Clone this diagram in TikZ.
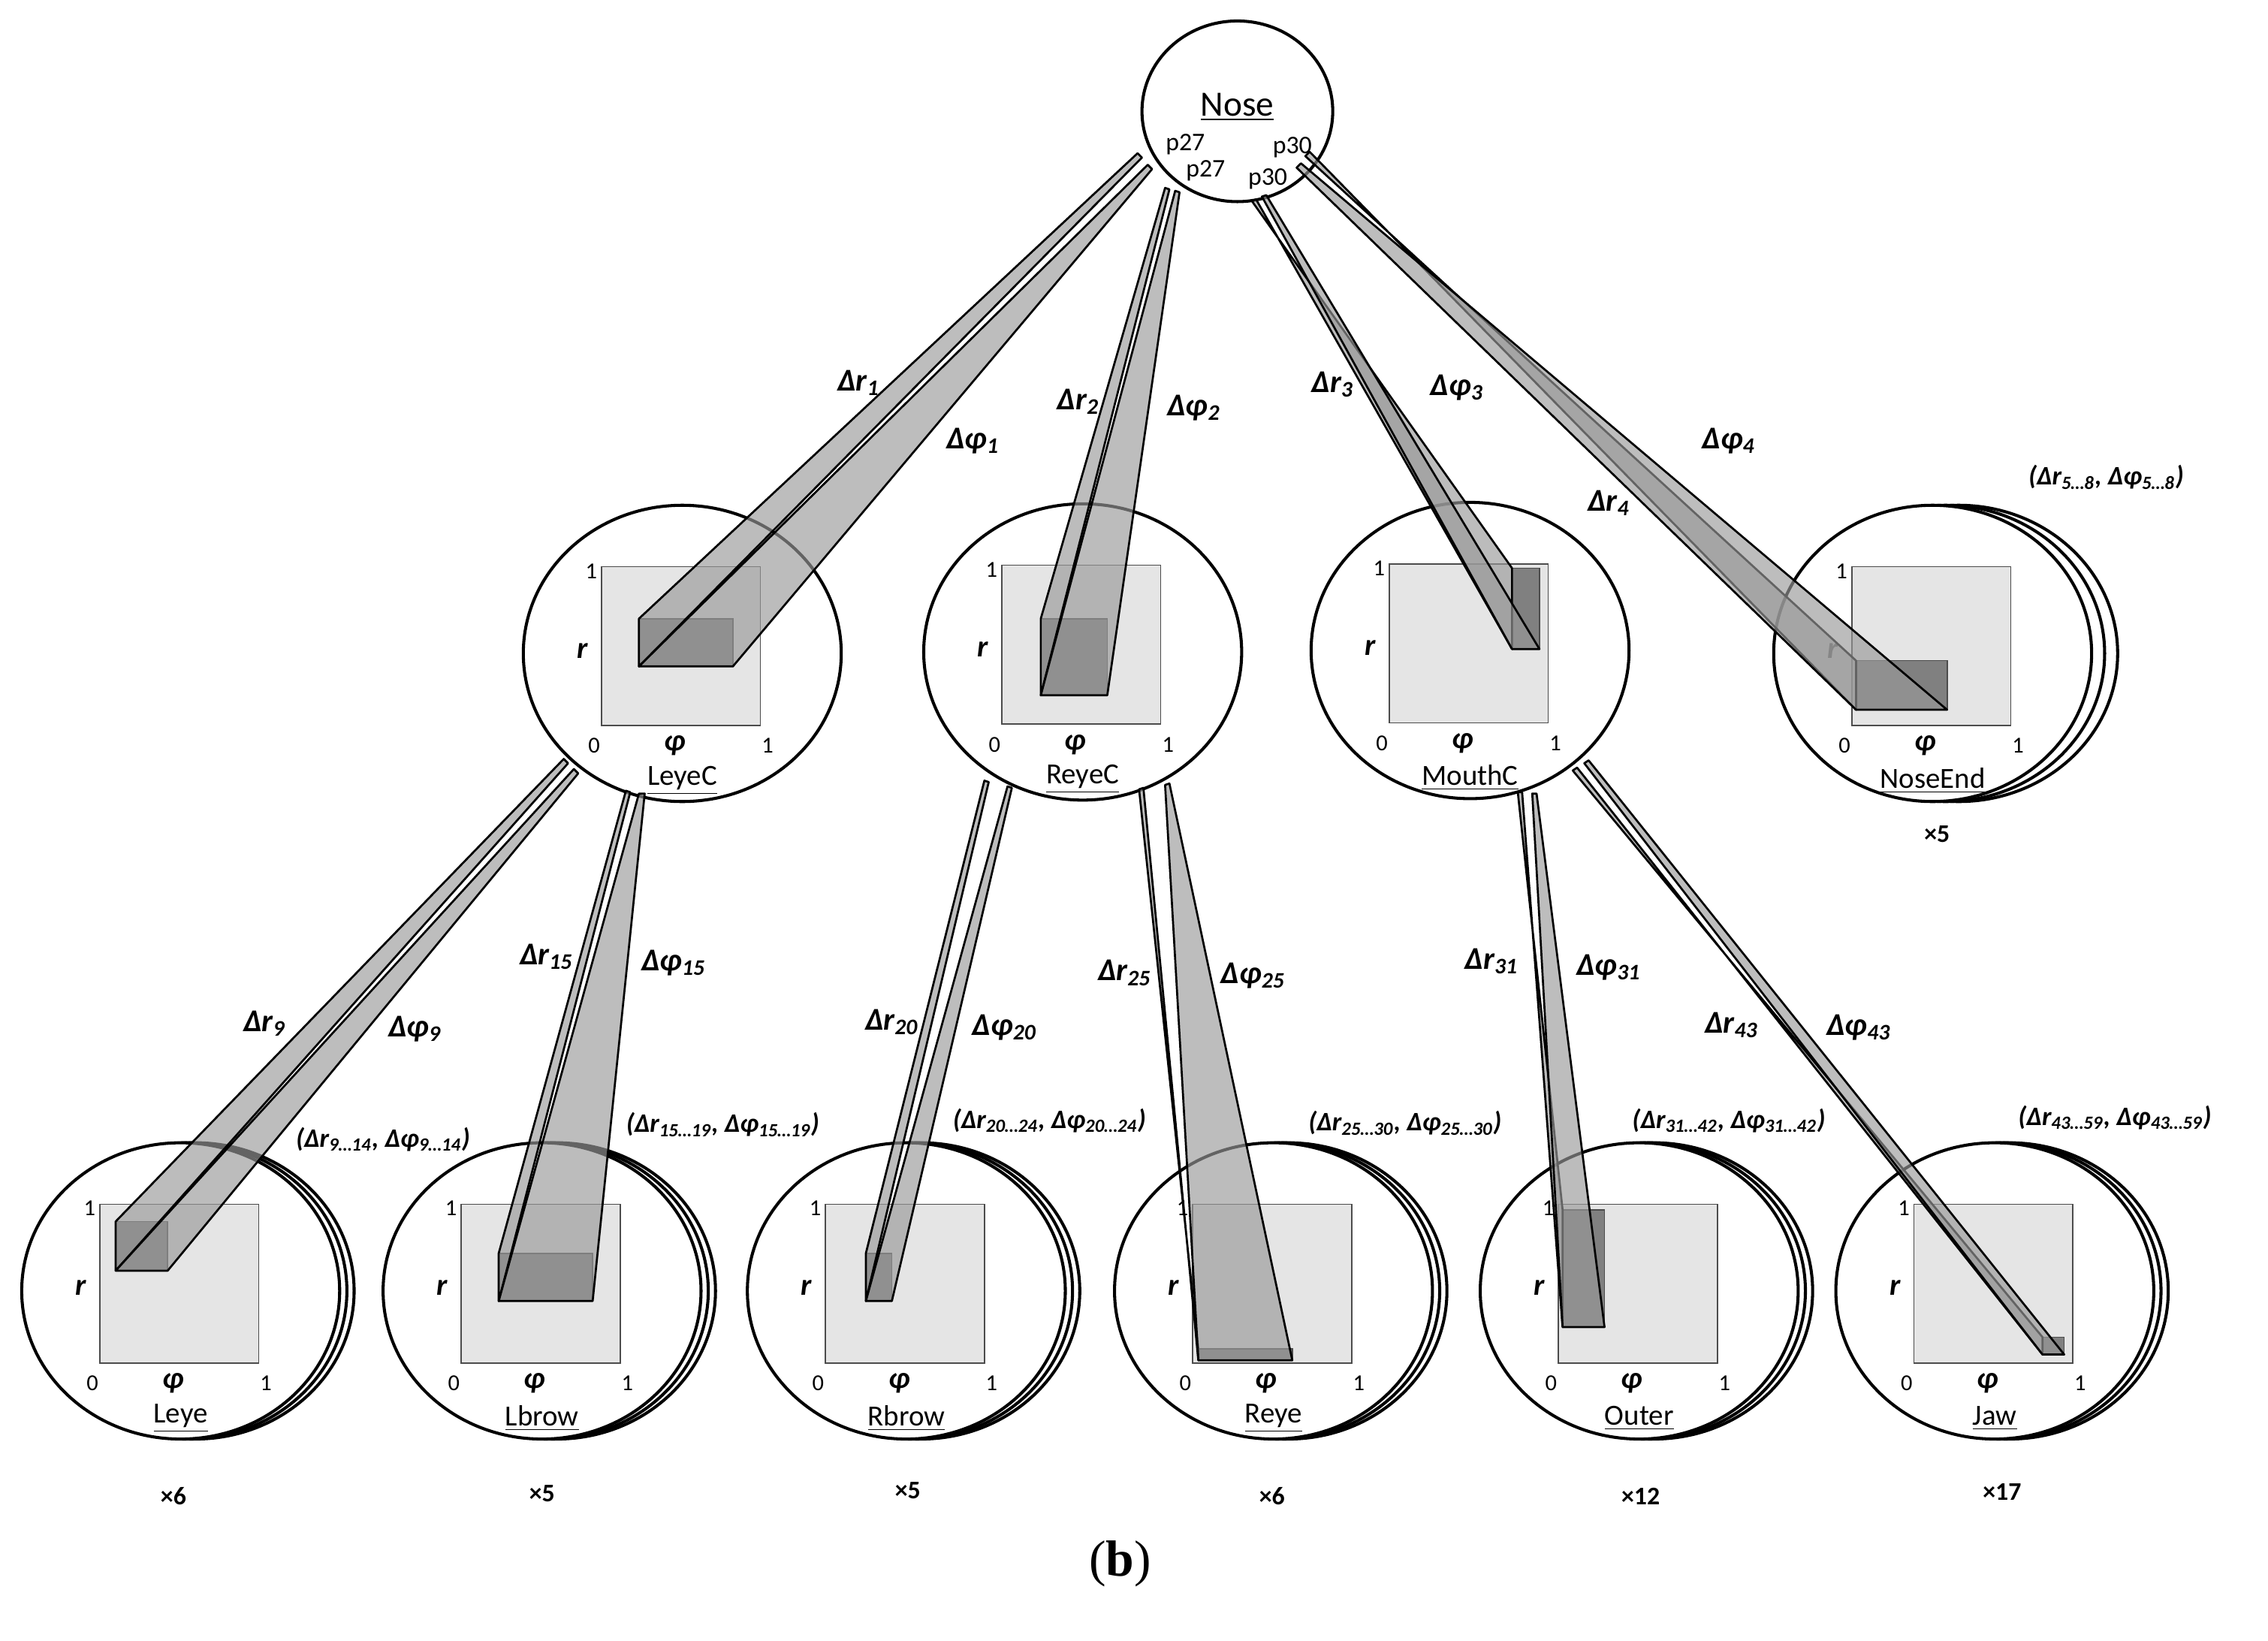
\documentclass[tikz,border=0pt]{standalone}
\usepackage{fontspec}
\setmainfont{Carlito}
\newfontfamily\serf{Liberation Serif}
\usetikzlibrary{shapes.geometric}
\newcommand\ring[5]{%
 \ifnum#5>0
  \node[face] at (#2+2*#5,#3) {};
  \node[face] at (#2+#5,#3) {};
 \fi
 \node[face] (#1) at (#2,#3) {};
 \filldraw[sq] (#2-56,#3-60) rectangle (#2+54,#3+50);
 \node[num] at (#2-63,#3-57) {1};
 \node[axl] at (#2-69,#3-2) {r};
 \node[num] at (#2-61,#3+64) {0};
 \node[axl] at (#2-5,#3+64) {φ};
 \node[num] at (#2+59,#3+64) {1};
 \node[nm] at (#2,#3+88) {\underline{#4}};
}
\newcommand\drect[5]{%
 \filldraw[dk] (#2,#3) rectangle (#4,#5);
 \coordinate (#1TL) at (#2,#3);
 \coordinate (#1BL) at (#2,#5);
 \coordinate (#1BR) at (#4,#5);
}
% beam: start1 start2 target1 target2
\newcommand\beam[4]{\filldraw[bm] #1 -- (#3) -- (#4) -- #2 -- cycle;}
\begin{document}
\begin{tikzpicture}[x=0.02cm,y=-0.02cm,
 face/.style={ellipse,draw,line width=1.2pt,fill=white,minimum width=4.4cm,minimum height=4.1cm,inner sep=0pt},
 sq/.style={fill=black!10,draw=black!70,line width=0.5pt},
 dk/.style={fill=black!50,draw=black!70,line width=0.5pt},
 bm/.style={fill=black!40,fill opacity=0.65,draw=black,draw opacity=1,line width=0.8pt,line join=round},
 num/.style={font=\fontsize{9}{10}\selectfont},
 axl/.style={font=\fontsize{12}{13}\selectfont\bfseries\itshape},
 nm/.style={font=\fontsize{11.5}{13}\selectfont},
 dl/.style={font=\fontsize{12.5}{14}\selectfont\bfseries\itshape},
 gl/.style={font=\fontsize{10.5}{12}\selectfont\bfseries\itshape},
 cnt/.style={font=\fontsize{10}{12}\selectfont\bfseries}]
\useasboundingbox (0,0) rectangle (1569,1135);
% Nose
\node[ellipse,draw,line width=1.2pt,minimum width=2.64cm,minimum height=2.5cm,inner sep=0pt] (nose) at (856,77) {};
\node[font=\fontsize{14}{16}\selectfont] at (856,74) {\underline{Nose}};
\node[font=\fontsize{10}{12}\selectfont] at (820,100) {p27};
\node[font=\fontsize{10}{12}\selectfont] at (834,118) {p27};
\node[font=\fontsize{10}{12}\selectfont] at (894,102) {p30};
\node[font=\fontsize{10}{12}\selectfont] at (877,124) {p30};
% middle row
\ring{leyec}{472}{452}{LeyeC}{0}
\ring{reyec}{749}{451}{ReyeC}{0}
\ring{mouthc}{1017}{450}{MouthC}{0}
\ring{noseend}{1337}{452}{NoseEnd}{9}
% bottom row
\ring{leye}{125}{893}{Leye}{5}
\ring{lbrow}{375}{893}{Lbrow}{5}
\ring{rbrow}{627}{893}{Rbrow}{5}
\ring{reye}{881}{893}{Reye}{5}
\ring{outer}{1134}{893}{Outer}{5}
\ring{jaw}{1380}{893}{Jaw}{5}
% inner rects
\drect{a}{442}{428}{507}{461}
\drect{b}{720}{428}{766}{481}
\drect{c}{1046}{393}{1065}{449}
\drect{d}{1284}{457}{1347}{491}
\drect{e}{80}{845}{116}{879}
\drect{f}{345}{867}{410}{900}
\drect{g}{599}{867}{617}{900}
\drect{h}{829}{933}{894}{941}
\drect{i}{1081}{837}{1110}{918}
\drect{j}{1413}{925}{1428}{937}
% beams from nose
\beam{(787,106)}{(790,109)}{aTL}{aBL}
\beam{(794,114)}{(797,117)}{aBL}{aBR}
\beam{(806,130)}{(809,131)}{bTL}{bBL}
\beam{(813,132)}{(816,133)}{bBL}{bBR}
\beam{(866,139)}{(869,138)}{cTL}{cBL}
\beam{(873,136)}{(876,135)}{cBL}{cBR}
\beam{(903,108)}{(906,105)}{dTL}{dBL}
\beam{(897,116)}{(900,113)}{dBL}{dBR}
% beams level 2
\beam{(390,525)}{(393,528)}{eTL}{eBL}
\beam{(397,532)}{(400,535)}{eBL}{eBR}
\beam{(433,547)}{(436,548)}{fTL}{fBL}
\beam{(442,549)}{(446,549)}{fBL}{fBR}
\beam{(681,540)}{(684,541)}{gTL}{gBL}
\beam{(697,544)}{(700,545)}{gBL}{gBR}
\beam{(788,546)}{(791,545)}{hTL}{hBL}
\beam{(806,543)}{(809,542)}{hBL}{hBR}
\beam{(1050,548)}{(1053,548)}{iTL}{iBL}
\beam{(1060,549)}{(1063,549)}{iBL}{iBR}
\beam{(1088,533)}{(1091,531)}{jTL}{jBL}
\beam{(1096,528)}{(1099,526)}{jBL}{jBR}
% labels
\node[dl] at (594,265) {Δr\textsubscript{1}};
\node[dl] at (673,305) {Δφ\textsubscript{1}};
\node[dl] at (746,278) {Δr\textsubscript{2}};
\node[dl] at (826,282) {Δφ\textsubscript{2}};
\node[dl] at (922,266) {Δr\textsubscript{3}};
\node[dl] at (1008,268) {Δφ\textsubscript{3}};
\node[dl] at (1113,348) {Δr\textsubscript{4}};
\node[dl] at (1196,305) {Δφ\textsubscript{4}};
\node[dl] at (183,708) {Δr\textsubscript{9}};
\node[dl] at (287,712) {Δφ\textsubscript{9}};
\node[dl] at (378,662) {Δr\textsubscript{15}};
\node[dl] at (466,666) {Δφ\textsubscript{15}};
\node[dl] at (617,707) {Δr\textsubscript{20}};
\node[dl] at (695,711) {Δφ\textsubscript{20}};
\node[dl] at (778,673) {Δr\textsubscript{25}};
\node[dl] at (867,675) {Δφ\textsubscript{25}};
\node[dl] at (1032,665) {Δr\textsubscript{31}};
\node[dl] at (1113,669) {Δφ\textsubscript{31}};
\node[dl] at (1198,709) {Δr\textsubscript{43}};
\node[dl] at (1286,711) {Δφ\textsubscript{43}};
\node[gl] at (1457,330) {(Δr\textsubscript{5…8}, Δφ\textsubscript{5…8})};
\node[gl] at (265,788) {(Δr\textsubscript{9…14}, Δφ\textsubscript{9…14})};
\node[gl] at (500,778) {(Δr\textsubscript{15…19}, Δφ\textsubscript{15…19})};
\node[gl] at (726,775) {(Δr\textsubscript{20…24}, Δφ\textsubscript{20…24})};
\node[gl] at (972,777) {(Δr\textsubscript{25…30}, Δφ\textsubscript{25…30})};
\node[gl] at (1196,775) {(Δr\textsubscript{31…42}, Δφ\textsubscript{31…42})};
\node[gl] at (1463,773) {(Δr\textsubscript{43…59}, Δφ\textsubscript{43…59})};
\node[cnt] at (1340,577) {×5};
\node[cnt] at (120,1035) {×6};
\node[cnt] at (375,1033) {×5};
\node[cnt] at (628,1031) {×5};
\node[cnt] at (880,1035) {×6};
\node[cnt] at (1135,1035) {×12};
\node[cnt] at (1385,1032) {×17};
\node[font=\fontsize{20}{22}\selectfont\serf] at (775,1082) {(\textbf{b})};
\end{tikzpicture}
\end{document}
